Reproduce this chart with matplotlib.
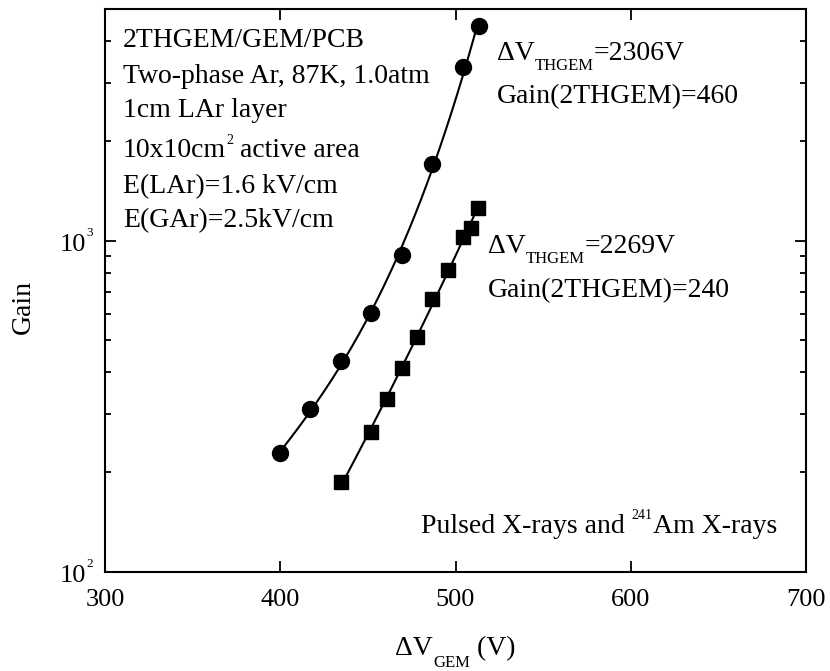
import numpy as np
import matplotlib
matplotlib.use("Agg")
import matplotlib.pyplot as plt
from matplotlib.ticker import LogLocator, FixedLocator, NullLocator, NullFormatter

plt.rcParams['font.family'] = ['Liberation Serif', 'DejaVu Serif']

# data
v_circle = [400.0, 417.1, 434.5, 452.0, 469.5, 486.7, 504.4, 513.3]
g_circle = [228, 310, 432, 604, 906, 1700, 3347, 4441]
v_square = [434.7, 452.0, 461.0, 469.5, 478.1, 486.7, 495.6, 504.2, 508.6, 513.0]
g_square = [187, 264, 332, 414, 511, 666, 816, 1028, 1094, 1252]
x_ticks = [300, 400, 500, 600, 700]
y_major = [100, 1000]
info_lines = ["2THGEM/GEM/PCB", "Two-phase Ar, 87K, 1.0atm", "1cm LAr layer",
              "10x10cm\u00b2 active area", "E(LAr)=1.6 kV/cm", "E(GAr)=2.5kV/cm"]

W, H = 830, 671
fig = plt.figure(figsize=(W / 100, H / 100), dpi=100)
L, R, T, B = 105, 806, 9, 572
ax = fig.add_axes([L / W, 1 - B / H, (R - L) / W, (B - T) / H])
renderer = fig.canvas.get_renderer()

fs = 20
tfs = 19


def rich(x, y, segs, ha='left', size=fs):
    """Draw segments (text, scale, raise_px) starting at pixel x, baseline y (top-origin)."""
    texts = []
    cur = x
    for s, scale, dy in segs:
        t = fig.text(cur / W, 1 - (y - dy) / H, s, fontsize=size * scale,
                     ha='left', va='baseline')
        cur += t.get_window_extent(renderer).width
        texts.append(t)
    total = cur - x
    shift = {'left': 0, 'center': total / 2, 'right': total}[ha]
    if shift:
        for t in texts:
            px_, py_ = t.get_position()
            t.set_position((px_ - shift / W, py_))
    return texts


# fitted curves (log-space polynomial fits)
for v, g, deg in [(v_circle, g_circle, 3), (v_square, g_square, 2)]:
    v = np.asarray(v); g = np.asarray(g, float)
    p = np.polyfit(v, np.log10(g), deg)
    xs = np.linspace(v.min(), v.max(), 200)
    ax.plot(xs, 10 ** np.polyval(p, xs), color='black', lw=1.5, zorder=2)

ax.plot(v_circle, g_circle, 'o', color='black', ms=11.5, zorder=3)
ax.plot(v_square, g_square, 's', color='black', ms=10, zorder=3)

ax.set_yscale('log')
ax.set_xlim(300, 700)
ax.set_ylim(100, 5000)
ax.xaxis.set_major_locator(FixedLocator(x_ticks))
ax.xaxis.set_minor_locator(NullLocator())
ax.yaxis.set_major_locator(FixedLocator(y_major))
ax.yaxis.set_major_formatter(NullFormatter())
ax.yaxis.set_minor_locator(LogLocator(base=10, subs=np.arange(2, 10), numticks=20))
ax.yaxis.set_minor_formatter(NullFormatter())

for s in ax.spines.values():
    s.set_linewidth(1.5)
ax.tick_params(which='both', direction='in', top=True, right=True, width=1.3,
               labelsize=tfs)
ax.tick_params(which='major', length=8)
ax.tick_params(which='minor', length=4)
ax.tick_params(axis='x', which='major', pad=12)

# y tick labels as 10 with small superscript
for val in y_major:
    _, ypix_up = ax.transData.transform((300, val))
    ypix = H - ypix_up
    rich(L - 12, ypix + 10, [("10", 1, 0), (str(int(np.log10(val))), 0.5, 15)],
         ha='right', size=tfs)

fig.text(23 / W, 1 - 307 / H, "Gain", fontsize=fs, rotation=90, ha='center', va='center')
rich((L + R) / 2, 655, [("\u0394V", 1, 0), ("GEM", 0.6, -12), (" (V)", 1, 0)], ha='center')

baselines = [47, 83, 117, 157, 193, 227]
for line, yb in zip(info_lines, baselines):
    if '\u00b2' in line:
        a, b = line.split('\u00b2')
        rich(123, yb, [(a, 1, 0), ("2", 0.5, 13), (b, 1, 0)])
    else:
        fig.text(123 / W, 1 - yb / H, line, fontsize=fs, ha='left', va='baseline')

rich(497, 60, [("\u0394V", 1, 0), ("THGEM", 0.6, -10), ("=2306V", 1, 0)])
fig.text(497 / W, 1 - 103 / H, "Gain(2THGEM)=460", fontsize=fs, ha='left', va='baseline')
rich(488, 253, [("\u0394V", 1, 0), ("THGEM", 0.6, -10), ("=2269V", 1, 0)])
fig.text(488 / W, 1 - 297 / H, "Gain(2THGEM)=240", fontsize=fs, ha='left', va='baseline')
rich(777, 533, [("Pulsed X-rays and ", 1, 0), ("241", 0.5, 14), ("Am X-rays", 1, 0)],
     ha='right')

fig.savefig("out.png", dpi=100)
